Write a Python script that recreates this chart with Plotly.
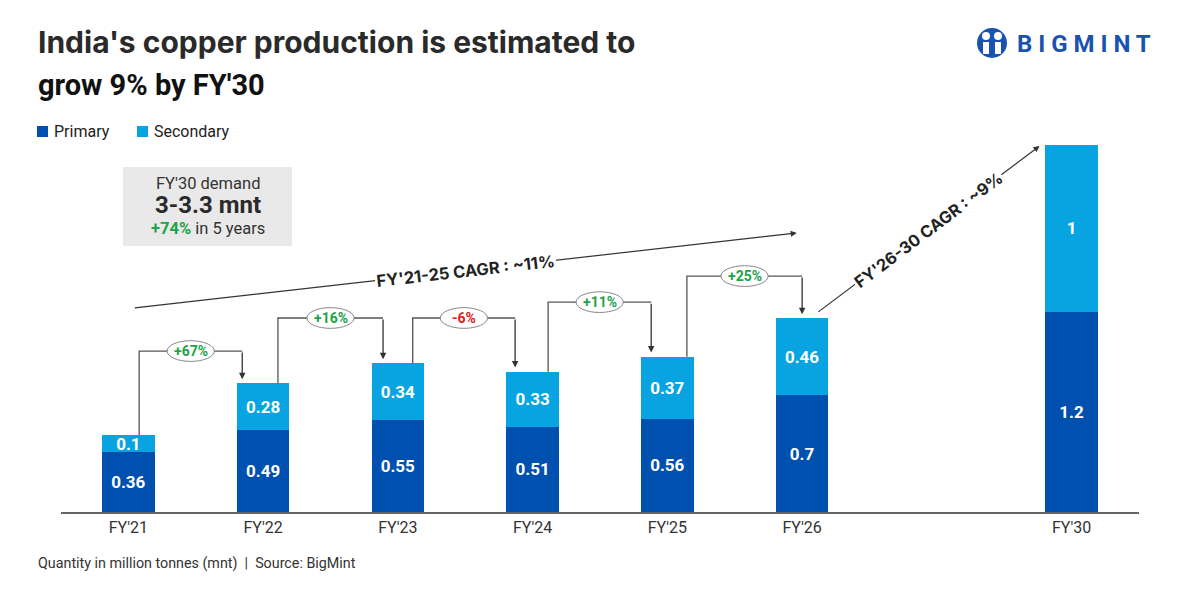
import math
import plotly.graph_objects as go

# ---------------- data ----------------
categories = ["FY'21", "FY'22", "FY'23", "FY'24", "FY'25", "FY'26", "FY'30"]
positions = [0, 1, 2, 3, 4, 5, 7]           # FY'30 sits after a gap
primary = [0.36, 0.49, 0.55, 0.51, 0.56, 0.7, 1.2]
secondary = [0.1, 0.28, 0.34, 0.33, 0.37, 0.46, 1.0]
cagr_labels = ["FY'21-25 CAGR : ~11%", "FY'26-30 CAGR : ~9%"]
demand_lines = ["FY'30 demand", "3-3.3 mnt", "+74%", " in 5 years"]

# ---------------- layout constants ----------------
W, H = 1200, 600
ML, MR, MT, MB = 61, 61, 128, 88
XR = [-0.5, 7.5]
YR = [0, 2.3]
PW, PH = W - ML - MR, H - MT - MB
C_PRI = "#0050B0"
C_SEC = "#08A4E1"
C_TXT = "#222222"
C_LINE = "#555555"
GREEN = "#1DA348"
RED = "#E0201B"
FONT = "Roboto, Arial, sans-serif"
FONT_T = "Inter, Roboto, Arial, sans-serif"

def px_x(v):  # data x -> pixel
    return ML + (v - XR[0]) / (XR[1] - XR[0]) * PW

def px_y(v):
    return MT + (YR[1] - v) / (YR[1] - YR[0]) * PH

def pap_x(p):  # pixel -> paper
    return (p - ML) / PW

def pap_y(p):
    return (H - MB - p) / PH

totals = [p + s for p, s in zip(primary, secondary)]

fig = go.Figure()
for vals, name, col in [(primary, "Primary", C_PRI), (secondary, "Secondary", C_SEC)]:
    fig.add_trace(go.Bar(x=positions, y=vals, name=name, marker_color=col,
                         marker_line_width=0,
                         width=0.39, text=[f"{v:g}" for v in vals],
                         textposition="inside", insidetextanchor="middle",
                         constraintext="none",
                         textfont=dict(color="white", size=17, family=FONT, weight="bold"),
                         hoverinfo="skip", showlegend=False))

shapes = []
annotations = []

# --------- growth brackets between consecutive bars ----------
bracket_levels = [0.964, 1.162, 1.162, 1.257, 1.413]
left_off = [0.08, 0.11, 0.11, 0.115, 0.145]
right_off = [-0.155, -0.11, -0.13, -0.12, 0.0]
gap = 0.025
for i in range(5):
    x0 = positions[i] + left_off[i]
    x1 = positions[i + 1] + right_off[i]
    lvl = bracket_levels[i]
    y_start = totals[i]
    y_tip = totals[i + 1] + gap
    shapes.append(dict(type="path", xref="x", yref="y",
                       path=f"M{x0},{y_start} L{x0},{lvl} L{x1},{lvl}",
                       line=dict(color=C_LINE, width=1.3)))
    annotations.append(dict(x=x1, y=y_tip, ax=x1, ay=lvl, xref="x", yref="y",
                            axref="x", ayref="y", text="", showarrow=True,
                            arrowhead=2, arrowsize=1, arrowwidth=1.3,
                            arrowcolor="#333333"))
    g = round((totals[i + 1] / totals[i] - 1) * 100)
    lab = f"+{g}%" if g > 0 else f"{g}%"
    col = GREEN if g > 0 else RED
    xm = (x0 + x1) / 2
    ew, eh = 0.175, 0.062
    shapes.append(dict(type="circle", xref="x", yref="y",
                       x0=xm - ew, x1=xm + ew, y0=lvl - eh, y1=lvl + eh,
                       fillcolor="white", line=dict(color="#888888", width=1)))
    annotations.append(dict(x=xm, y=lvl, xref="x", yref="y", text=f"<b>{lab}</b>",
                            showarrow=False, font=dict(size=14, color=col, family=FONT)))

# --------- CAGR arrows ----------
cagr_arrows = [((0.037, 1.222), (4.96, 1.671)), ((5.109, 1.192), (6.762, 2.192))]
for (sx, sy), (ex, ey) in cagr_arrows:
    annotations.append(dict(x=ex, y=ey, ax=sx, ay=sy, xref="x", yref="y",
                            axref="x", ayref="y", text="", showarrow=True,
                            arrowhead=2, arrowsize=1, arrowwidth=1.2,
                            arrowcolor="#333333"))
for (s, e), lab in zip(cagr_arrows, cagr_labels):
    (sx, sy), (ex, ey) = s, e
    ang = -math.degrees(math.atan2(px_y(sy) - px_y(ey), px_x(ex) - px_x(sx)))
    annotations.append(dict(x=(sx + ex) / 2, y=(sy + ey) / 2, xref="x", yref="y",
                            text=f"<b>{lab}</b>", showarrow=False, textangle=ang,
                            bgcolor="white", borderpad=1,
                            font=dict(size=16.5, color=C_TXT, family=FONT_T)))

# --------- title ----------
annotations.append(dict(x=pap_x(36), y=pap_y(42), xref="paper", yref="paper",
                        xanchor="left", yanchor="middle", showarrow=False,
                        text="<b>India's copper production is estimated to</b>",
                        font=dict(size=30, color="#2a2a2a", family=FONT_T)))
annotations.append(dict(x=pap_x(36), y=pap_y(85), xref="paper", yref="paper",
                        xanchor="left", yanchor="middle", showarrow=False,
                        text="<b>grow 9% by FY'30</b>",
                        font=dict(size=29, color="#111111", family=FONT)))

# --------- legend (manual) ----------
for sq_x, col, name in [(37, C_PRI, "Primary"), (137, C_SEC, "Secondary")]:
    shapes.append(dict(type="rect", xref="paper", yref="paper",
                       x0=pap_x(sq_x), x1=pap_x(sq_x + 11), y0=pap_y(137), y1=pap_y(126),
                       fillcolor=col, line=dict(width=0)))
    annotations.append(dict(x=pap_x(sq_x + 15), y=pap_y(131), xref="paper", yref="paper",
                            xanchor="left", yanchor="middle", showarrow=False,
                            text=name, font=dict(size=16, color=C_TXT, family=FONT)))

# --------- demand box ----------
shapes.append(dict(type="rect", xref="paper", yref="paper",
                   x0=pap_x(123), x1=pap_x(292), y0=pap_y(246), y1=pap_y(167),
                   fillcolor="#E9E9E9", line=dict(width=0), layer="below"))
bx = pap_x(207.5)
annotations.append(dict(x=bx, y=pap_y(183), xref="paper", yref="paper", showarrow=False,
                        xanchor="center", yanchor="middle",
                        text=demand_lines[0], font=dict(size=16.5, color="#333333", family=FONT)))
annotations.append(dict(x=bx, y=pap_y(205), xref="paper", yref="paper", showarrow=False,
                        xanchor="center", yanchor="middle",
                        text=f"<b>{demand_lines[1]}</b>",
                        font=dict(size=24, color="#2a2a2a", family=FONT)))
annotations.append(dict(x=bx, y=pap_y(228), xref="paper", yref="paper", showarrow=False,
                        xanchor="center", yanchor="middle",
                        text=f"<b><span style='color:{GREEN}'>{demand_lines[2]}</span></b>{demand_lines[3]}",
                        font=dict(size=16.5, color="#333333", family=FONT)))

# --------- footnote ----------
annotations.append(dict(x=pap_x(36), y=pap_y(563), xref="paper", yref="paper",
                        xanchor="left", yanchor="middle", showarrow=False,
                        text="Quantity in million tonnes (mnt)  |  Source: BigMint",
                        font=dict(size=14.3, color="#333333", family=FONT)))

# --------- logo ----------
LOGO = "#1A52B0"
shapes.append(dict(type="circle", xref="paper", yref="paper",
                   x0=pap_x(977), x1=pap_x(1007), y0=pap_y(58), y1=pap_y(28),
                   fillcolor=LOGO, line=dict(width=0)))
for cx in (986, 998):
    shapes.append(dict(type="circle", xref="paper", yref="paper",
                       x0=pap_x(cx - 4), x1=pap_x(cx + 4), y0=pap_y(40), y1=pap_y(32),
                       fillcolor="white", line=dict(width=0)))
    shapes.append(dict(type="rect", xref="paper", yref="paper",
                       x0=pap_x(cx - 3), x1=pap_x(cx + 3), y0=pap_y(54), y1=pap_y(42),
                       fillcolor="white", line=dict(width=0)))
annotations.append(dict(x=pap_x(1015), y=pap_y(44), xref="paper", yref="paper",
                        xanchor="left", yanchor="middle", showarrow=False,
                        text="<b>B I G M I N T</b>",
                        font=dict(size=24, color=LOGO, family=FONT)))

fig.update_layout(
    width=W, height=H, barmode="stack",
    margin=dict(l=ML, r=MR, t=MT, b=MB, pad=0),
    paper_bgcolor="white", plot_bgcolor="white",
    shapes=shapes, annotations=annotations,
    xaxis=dict(range=XR, tickvals=positions, ticktext=categories, showgrid=False,
               zeroline=False, showline=True, linecolor="#666666", linewidth=2,
               ticks="", tickfont=dict(size=16, color="#333333", family=FONT),
               fixedrange=True),
    yaxis=dict(range=YR, visible=False, showgrid=False, zeroline=False, fixedrange=True),
)

fig.write_html("out.html", config={"displayModeBar": False},
               post_script="document.body.style.margin='0';")
